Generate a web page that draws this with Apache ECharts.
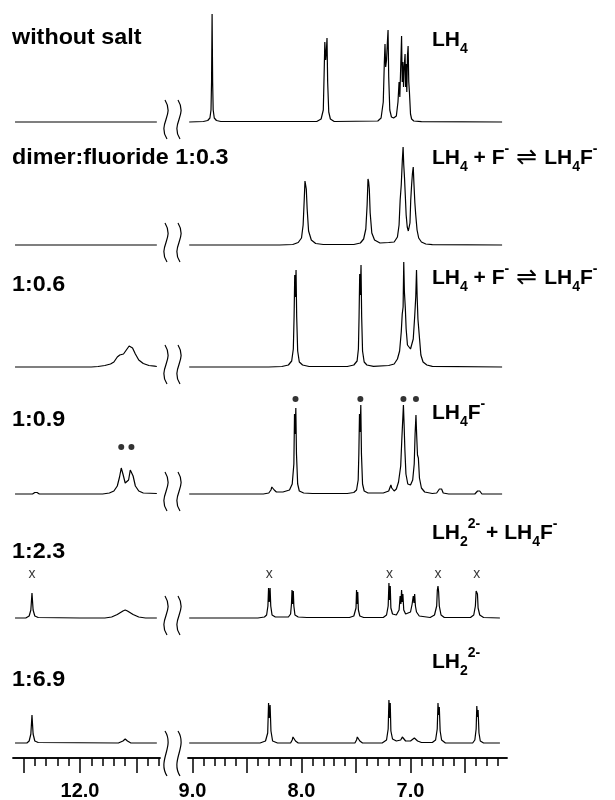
<!DOCTYPE html>
<html>
<head>
<meta charset="utf-8">
<title>1H NMR fluoride titration</title>
<script src="https://cdn.jsdelivr.net/npm/echarts@6/dist/echarts.min.js"></script>
<style>
  html, body { margin: 0; padding: 0; background: #fff; }
  #main { width: 615px; height: 800px; }
</style>
</head>
<body>
<div id="main"></div>
<script>
// sample / species labels
const sampleLabels = ['without salt', 'dimer:fluoride 1:0.3', '1:0.6', '1:0.9', '1:2.3', '1:6.9'];
const speciesLabels = [
  '{m|LH}{sub|4}',
  '{m|LH}{sub|4}{m| + F}{sup|-}{arr|\u21CC}{m|LH}{sub|4}{m|F}{sup|-}',
  '{m|LH}{sub|4}{m| + F}{sup|-}{arr|\u21CC}{m|LH}{sub|4}{m|F}{sup|-}',
  '{m|LH}{sub|4}{m|F}{sup|-}',
  '{m|LH}{sub|2}{sup|2-}{m| + LH}{sub|4}{m|F}{sup|-}',
  '{m|LH}{sub|2}{sup|2-}'
];

// ppm axis ticks
const tickMajorLeft = [12.5, 12.0, 11.5];
const tickMinorLeft = [12.5, 12.4, 12.3, 12.2, 12.1, 12.0, 11.9, 11.8, 11.7, 11.6, 11.5, 11.4, 11.3];
const tickLabelsLeft = [12.0];
const tickMajorRight = [9.0, 8.5, 8.0, 7.5, 7.0, 6.5];
const tickMinorRight = [9.0, 8.9, 8.8, 8.7, 8.6, 8.5, 8.4, 8.3, 8.2, 8.1, 8.0, 7.9, 7.8, 7.7, 7.6, 7.5,
  7.4, 7.3, 7.2, 7.1, 7.0, 6.9, 6.8, 6.7, 6.6, 6.5, 6.4, 6.3, 6.2];
const tickLabelsRight = [9.0, 8.0, 7.0];

// spectra: [ppm, intensity]
const spec1Left = [[12.575, 0], [11.32, 0]];
const spec1Right = [
  [9.03, 0], [8.90, 0.5], [8.86, 1.5], [8.84, 4], [8.83, 12], [8.825, 40], [8.82, 108], [8.815, 40], [8.81, 12], [8.80, 4], [8.78, 1.5], [8.74, 0.5],
  [7.86, 0.5], [7.82, 3], [7.80, 12], [7.792, 50], [7.786, 80], [7.778, 62], [7.772, 70], [7.766, 84], [7.76, 40], [7.75, 10], [7.735, 3], [7.70, 0.5],
  [7.30, 1], [7.27, 4], [7.25, 20], [7.24, 60], [7.234, 78], [7.228, 55], [7.22, 62], [7.212, 80], [7.206, 92], [7.2, 45], [7.19, 12], [7.175, 5], [7.155, 4],
  [7.13, 6], [7.115, 20], [7.105, 40], [7.098, 25], [7.09, 55], [7.082, 86], [7.076, 40], [7.07, 60], [7.064, 35], [7.058, 55], [7.05, 68], [7.045, 35],
  [7.04, 58], [7.034, 30], [7.028, 66], [7.022, 76], [7.016, 40], [7.01, 30], [7.0, 8], [6.99, 3], [6.97, 1], [6.9, 0.3], [6.16, 0]
];
const spec2Left = [[12.575, 0], [11.32, 0]];
const spec2Right = [
  [9.03, 0], [8.2, 0], [8.08, 0.5], [8.03, 2.5], [8.0, 7], [7.985, 20], [7.975, 45], [7.968, 64], [7.962, 60], [7.956, 56], [7.948, 36], [7.935, 14], [7.91, 5], [7.87, 1.5], [7.80, 0.5],
  [7.52, 0.5], [7.46, 2], [7.43, 6], [7.41, 16], [7.398, 40], [7.39, 66], [7.384, 63], [7.378, 56], [7.37, 32], [7.355, 12], [7.33, 5], [7.28, 2], [7.2, 2.5],
  [7.15, 3], [7.12, 8], [7.105, 20], [7.095, 45], [7.085, 60], [7.075, 85], [7.068, 98], [7.062, 80], [7.055, 67], [7.048, 50], [7.04, 30], [7.03, 18], [7.02, 14],
  [7.012, 14], [7.005, 22], [6.998, 45], [6.99, 60], [6.982, 72], [6.975, 78], [6.968, 60], [6.96, 42], [6.952, 30], [6.94, 15], [6.925, 7], [6.9, 3], [6.86, 1], [6.8, 0.3], [6.16, 0]
];
const spec3Left = [
  [12.575, 0], [11.9, 0], [11.84, 0.5], [11.78, 1.5], [11.73, 3], [11.70, 5], [11.67, 10], [11.648, 12], [11.635, 11], [11.615, 13], [11.59, 17],
  [11.565, 21], [11.55, 22], [11.535, 19], [11.51, 13], [11.48, 7], [11.44, 3.5], [11.39, 1.5], [11.34, 0.8], [11.32, 0.5]
];
const spec3Right = [
  [9.03, 0], [8.3, 0], [8.18, 0.5], [8.12, 2], [8.09, 6], [8.075, 18], [8.068, 50], [8.062, 92], [8.056, 70], [8.05, 97], [8.044, 50], [8.035, 16], [8.02, 5], [7.99, 2], [7.93, 0.5],
  [7.58, 0.5], [7.52, 2], [7.49, 6], [7.478, 18], [7.472, 50], [7.466, 93], [7.46, 72], [7.454, 102], [7.448, 50], [7.44, 16], [7.425, 5], [7.40, 2], [7.34, 0.6],
  [7.2, 1.5], [7.15, 3], [7.12, 8], [7.10, 16], [7.085, 35], [7.076, 53], [7.068, 60], [7.062, 105], [7.056, 75], [7.048, 60], [7.04, 38], [7.028, 22], [7.0, 18],
  [6.995, 20], [6.975, 28], [6.962, 50], [6.952, 70], [6.945, 97], [6.939, 70], [6.932, 48], [6.925, 46], [6.917, 28], [6.905, 12], [6.885, 5], [6.85, 2], [6.8, 0.6], [6.16, 0]
];
const spec4Left = [
  [12.575, 0], [12.42, 0], [12.40, 1.5], [12.39, 3], [12.38, 1.5], [12.36, 0], [11.80, 0], [11.74, 1], [11.70, 3], [11.67, 8], [11.65, 17], [11.635, 26],
  [11.62, 20], [11.60, 11], [11.585, 9], [11.57, 14], [11.555, 24], [11.545, 26], [11.53, 18], [11.51, 8], [11.48, 3], [11.44, 1], [11.32, 0.5]
];
const spec4Right = [
  [9.03, 0], [8.35, 0], [8.30, 1], [8.28, 4], [8.272, 7], [8.265, 5], [8.258, 7], [8.25, 4], [8.23, 2], [8.17, 2], [8.11, 4], [8.085, 10], [8.07, 30],
  [8.064, 80], [8.058, 60], [8.052, 86], [8.046, 40], [8.035, 10], [8.02, 3], [7.98, 1], [7.9, 0.5],
  [7.58, 0.5], [7.52, 1.5], [7.495, 4], [7.48, 14], [7.474, 40], [7.468, 80], [7.462, 62], [7.456, 89], [7.45, 40], [7.44, 10], [7.425, 3], [7.39, 1],
  [7.25, 1], [7.2, 3], [7.18, 9], [7.172, 6], [7.165, 8], [7.15, 3], [7.13, 5], [7.11, 12], [7.09, 28], [7.08, 54], [7.072, 55], [7.065, 89], [7.059, 70],
  [7.052, 45], [7.042, 20], [7.025, 10], [7.0, 9], [6.98, 14], [6.966, 30], [6.958, 60], [6.95, 79], [6.944, 60], [6.936, 39], [6.928, 36], [6.918, 16],
  [6.90, 6], [6.87, 2], [6.8, 0.5], [6.76, 1], [6.735, 5], [6.725, 3], [6.715, 5], [6.70, 1], [6.65, 0], [6.41, 0], [6.385, 3], [6.375, 5], [6.365, 3], [6.345, 0], [6.16, 0]
];
const spec5Left = [
  [12.575, 0], [12.48, 0], [12.45, 2], [12.435, 8], [12.425, 25], [12.415, 8], [12.40, 2], [12.37, 0.5], [12.0, 0], [11.78, 0], [11.72, 1], [11.67, 3.5],
  [11.62, 7], [11.60, 8], [11.58, 7], [11.53, 3.5], [11.48, 1], [11.42, 0], [11.32, 0]
];
const spec5Right = [
  [9.03, 0], [8.4, 0], [8.34, 1], [8.32, 3], [8.308, 12], [8.302, 30], [8.296, 16], [8.288, 30], [8.282, 12], [8.27, 3], [8.24, 1],
  [8.12, 1], [8.10, 4], [8.092, 14], [8.087, 28], [8.082, 14], [8.075, 27], [8.07, 12], [8.06, 3], [8.03, 1], [7.95, 0.5],
  [7.56, 0.5], [7.52, 2], [7.50, 10], [7.495, 28], [7.489, 14], [7.484, 26], [7.478, 8], [7.465, 2], [7.43, 0.5],
  [7.25, 0.5], [7.22, 3], [7.205, 12], [7.198, 35], [7.192, 18], [7.186, 32], [7.18, 10], [7.165, 4],
  [7.13, 3], [7.105, 8], [7.095, 22], [7.088, 14], [7.082, 28], [7.076, 16], [7.07, 24], [7.062, 8], [7.045, 4], [7.03, 4],
  [7.0, 6], [6.985, 14], [6.975, 22], [6.968, 15], [6.962, 24], [6.955, 12], [6.945, 6], [6.92, 2],
  [6.82, 0.5], [6.78, 3], [6.76, 12], [6.754, 28], [6.748, 32], [6.742, 26], [6.736, 12], [6.72, 3], [6.69, 0.5],
  [6.45, 0.5], [6.42, 3], [6.405, 12], [6.398, 27], [6.392, 29], [6.386, 24], [6.38, 10], [6.365, 3], [6.33, 0.5], [6.18, 0]
];
const spec6Left = [
  [12.575, 0], [12.47, 0], [12.45, 2], [12.435, 9], [12.425, 28], [12.415, 9], [12.40, 2], [12.37, 0.5], [11.66, 0], [11.62, 2], [11.60, 4], [11.58, 2], [11.55, 0], [11.32, 0]
];
const spec6Right = [
  [9.03, 0], [8.38, 0], [8.33, 2], [8.31, 10], [8.302, 40], [8.296, 25], [8.288, 38], [8.28, 12], [8.265, 2], [8.22, 0], [8.10, 0], [8.085, 3], [8.078, 6],
  [8.07, 4], [8.064, 6], [8.055, 2], [8.03, 0], [7.51, 0], [7.495, 3], [7.488, 6], [7.48, 4], [7.474, 6], [7.465, 2], [7.44, 0], [7.26, 0], [7.22, 3],
  [7.205, 14], [7.198, 43], [7.192, 25], [7.186, 40], [7.18, 12], [7.165, 4], [7.13, 2], [7.09, 3], [7.075, 6], [7.065, 4], [7.058, 6], [7.045, 2], [7.0, 2],
  [6.965, 5], [6.955, 3], [6.948, 5], [6.935, 2], [6.9, 0.5], [6.8, 0.5], [6.77, 3], [6.755, 14], [6.748, 40], [6.742, 28], [6.736, 36], [6.728, 12],
  [6.715, 3], [6.68, 0], [6.43, 0], [6.41, 3], [6.398, 14], [6.392, 37], [6.386, 26], [6.38, 33], [6.372, 10], [6.36, 2], [6.33, 0], [6.18, 0]
];

// annotations (ppm of marked signals)
const dotsLeft = [11.635, 11.545];
const dotsRight = [8.055, 7.46, 7.065, 6.95];
const crossLeft = [12.425];
const crossRight = [8.295, 7.192, 6.748, 6.392];

const spectraLeft = [spec1Left, spec2Left, spec3Left, spec4Left, spec5Left, spec6Left];
const spectraRight = [spec1Right, spec2Right, spec3Right, spec4Right, spec5Right, spec6Right];

// layout
const baselines = [122, 245, 367, 494, 618, 743];
const labelY = [38, 158, 285, 420, 552, 680];
const speciesY = [40, 158, 278, 413, 533, 662];
const rowH = 120;
const seg = [
  { left: 13, width: 147, min: 11.292, max: 12.593, major: tickMajorLeft, minor: tickMinorLeft, labels: tickLabelsLeft },
  { left: 188, width: 319, min: 6.115, max: 9.041, major: tickMajorRight, minor: tickMinorRight, labels: tickLabelsRight }
];

const grid = [], xAxis = [], yAxis = [], series = [];
baselines.forEach(function (b, r) {
  seg.forEach(function (s, k) {
    const g = grid.length;
    grid.push({ left: s.left, width: s.width, top: b - rowH, height: rowH, outerBoundsMode: 'none' });
    const last = r === baselines.length - 1;
    xAxis.push({
      gridIndex: g, type: 'value', inverse: true, min: s.min, max: s.max, show: last,
      position: 'bottom', offset: 15,
      axisLine: { onZero: false, lineStyle: { color: '#000', width: 1.5 } },
      axisTick: { show: true, customValues: s.major, length: 15, lineStyle: { color: '#000', width: 1.5 } },
      axisLabel: {
        customValues: s.labels, margin: 23, color: '#000', fontSize: 20, fontWeight: 'bold',
        fontFamily: 'Liberation Sans', formatter: function (v) { return v.toFixed(1); }
      },
      splitLine: { show: false }
    });
    yAxis.push({ gridIndex: g, type: 'value', min: 0, max: rowH, show: false, splitLine: { show: false } });
    series.push({
      type: 'line', xAxisIndex: g, yAxisIndex: g, data: (k === 0 ? spectraLeft : spectraRight)[r],
      showSymbol: false, clip: false, silent: true,
      lineStyle: { color: '#000', width: 1.2 }
    });
  });
});

// minor ticks on bottom axes
[10, 11].forEach(function (g, k) {
  const s = seg[k];
  xAxis.push({
    gridIndex: g, type: 'value', inverse: true, min: s.min, max: s.max,
    position: 'bottom', offset: 15,
    axisLine: { onZero: false, lineStyle: { color: '#000', width: 1.5 } },
    axisTick: { show: true, customValues: s.minor, length: 8, lineStyle: { color: '#000', width: 1.5 } },
    axisLabel: { show: false }, splitLine: { show: false }
  });
});

// marker dots (row 4) and crosses (row 5)
series.push({
  type: 'scatter', xAxisIndex: 6, yAxisIndex: 6, symbol: 'circle', symbolSize: 6, silent: true,
  itemStyle: { color: '#000' }, data: dotsLeft.map(function (p) { return [p, 47]; })
});
series.push({
  type: 'scatter', xAxisIndex: 7, yAxisIndex: 7, symbol: 'circle', symbolSize: 6, silent: true,
  itemStyle: { color: '#000' }, data: dotsRight.map(function (p) { return [p, 95]; })
});
[[8, crossLeft], [9, crossRight]].forEach(function (c) {
  series.push({
    type: 'scatter', xAxisIndex: c[0], yAxisIndex: c[0], symbolSize: 0, silent: true,
    data: c[1].map(function (p) { return [p, 44]; }),
    label: { show: true, position: 'inside', formatter: 'x', color: '#000', fontSize: 14, fontFamily: 'Liberation Sans' }
  });
});

// text and axis-break marks
const graphic = [];
sampleLabels.forEach(function (t, r) {
  graphic.push({
    type: 'text', x: 12, y: labelY[r], scaleX: 1.06, silent: true,
    style: { text: t, fill: '#000', font: 'bold 22px "Liberation Sans"', verticalAlign: 'middle' }
  });
});
speciesLabels.forEach(function (t, r) {
  graphic.push({
    type: 'text', x: 432, y: speciesY[r], silent: true,
    style: {
      text: t, fill: '#000', verticalAlign: 'middle',
      rich: {
        m: { fontFamily: 'Liberation Sans', fontWeight: 'bold', fontSize: 21, lineHeight: 32, verticalAlign: 'middle' },
        sub: { fontFamily: 'Liberation Sans', fontWeight: 'bold', fontSize: 14, lineHeight: 16, verticalAlign: 'bottom' },
        sup: { fontFamily: 'Liberation Sans', fontWeight: 'bold', fontSize: 14, lineHeight: 16, verticalAlign: 'top' },
        arr: { fontFamily: 'DejaVu Sans', fontSize: 25, lineHeight: 32, verticalAlign: 'middle', padding: [0, 7, 0, 7] }
      }
    }
  });
});
baselines.forEach(function (b, r) {
  const top = r === baselines.length - 1 ? b - 12 : b - 22;
  const bot = r === baselines.length - 1 ? b + 33 : b + 17;
  [166, 179].forEach(function (cx) {
    graphic.push({
      type: 'bezierCurve', silent: true,
      shape: { x1: cx - 1, y1: top, cpx1: cx + 9, cpy1: top + 16, cpx2: cx - 9, cpy2: bot - 16, x2: cx + 1, y2: bot },
      style: { stroke: '#000', lineWidth: 1.2, fill: null }
    });
  });
});

const chart = echarts.init(document.getElementById('main'), null, { renderer: 'canvas' });
chart.setOption({
  animation: false,
  backgroundColor: '#fff',
  grid: grid,
  xAxis: xAxis,
  yAxis: yAxis,
  series: series,
  graphic: graphic
});
</script>
</body>
</html>
